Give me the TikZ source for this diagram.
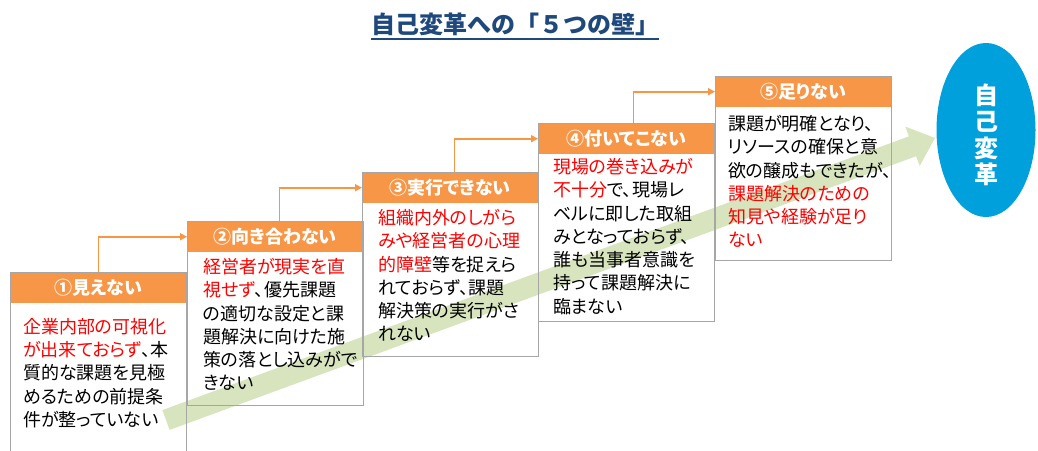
\documentclass[tikz,border=0pt]{standalone}
\usepackage{fontspec}
\setmainfont{Noto Sans CJK JP}[RawFeature=+palt]
\newfontfamily\jpfull{Noto Sans CJK JP}
\usetikzlibrary{arrows.meta,shapes.geometric,calc}
\definecolor{org}{HTML}{F79646}
\definecolor{boxgray}{HTML}{A6A6A6}
\definecolor{grn}{HTML}{D7E4BD}
\definecolor{eblue}{HTML}{00A0DC}
\definecolor{tblue}{HTML}{1F497D}
\definecolor{redtxt}{HTML}{FF0000}
\newcommand{\redt}[1]{\textcolor{redtxt}{#1}}
\begin{document}
\begin{tikzpicture}[x=1pt,y=-1pt,
  boxframe/.style={draw=boxgray, line width=1.2pt, minimum width=176pt, anchor=north west, inner sep=0pt},
  hdr/.style={fill=org, minimum width=176pt, minimum height=31pt, anchor=north west, inner sep=0pt,
              text=white, font=\fontsize{18}{21}\selectfont\bfseries},
  txt/.style={anchor=north west, align=left, inner sep=0pt, text=black,
              font=\fontsize{18}{23.3}\selectfont},
  conn/.style={draw=org, line width=1.6pt, -{Triangle[length=7pt,width=7pt]}}
]
\useasboundingbox (0,0) rectangle (1038,450);
\clip (0,0) rectangle (1038,450);

% title
\node[font=\fontsize{24}{28}\jpfull\bfseries, text=tblue, inner sep=0pt] (title) at (515,24) {自己変革への「５つの壁」};
\draw[tblue, line width=1.5pt] ([yshift=-3.5pt]title.south west) -- ([yshift=-3.5pt]title.south east);

% green arrow
\fill[grn] (162.4,410.1) -- (908.9,136.4) -- (905.3,126.6) -- (935,138) -- (919.7,166.0) -- (916.1,156.2) -- (169.6,429.9) -- cycle;

% headers
\node[hdr] (h1) at (10,272) {①見えない};
\node[hdr] (h2) at (187,221) {②向き合わない};
\node[hdr] (h3) at (362,172) {③実行できない};
\node[hdr] (h4) at (538,123) {④付いてこない};
\node[hdr] (h5) at (715,76) {⑤足りない};

% box frames
\node[boxframe, minimum height=195pt] (b1) at (10,272) {};
\node[boxframe, minimum height=184pt] (b2) at (187,221) {};
\node[boxframe, minimum height=184pt] (b3) at (362,172) {};
\node[boxframe, minimum height=198pt] (b4) at (538,123) {};
\node[boxframe, minimum height=184pt] (b5) at (715,76) {};

% connectors
\draw[conn] (b1.north) |- (h2.west);
\draw[conn] ([xshift=4pt]b2.north) |- (h3.west);
\draw[conn] ([xshift=4pt]b3.north) |- (h4.west);
\draw[conn] ([xshift=7pt]b4.north) |- (h5.west);

% texts
\node[txt] (t1) at (23,318) {\redt{企業内部の可視化}\\\redt{が出来ておらず}、本\\質的な課題を見極\\めるための前提条\\件が整っていない};
\node[txt] (t2) at (203,258) {\redt{経営者が現実を直}\\\redt{視せず}、優先課題\\の適切な設定と課\\題解決に向けた施\\策の落とし込みがで\\きない};
\node[txt] (t3) at (378,209) {\redt{組織内外のしがら}\\\redt{みや経営者の心理}\\\redt{的障壁}等を捉えら\\れておらず、課題\\解決策の実行がさ\\れない};
\node[txt] (t4) at (553,158) {\redt{現場の巻き込みが}\\\redt{不十分}で、現場レ\\ベルに即した取組\\みとなっておらず、\\誰も当事者意識を\\持って課題解決に\\臨まない};
\node[txt] (t5) at (728,115) {課題が明確となり、\\リソースの確保と意\\欲の醸成もできたが、\\\redt{課題解決のための}\\\redt{知見や経験が足り}\\\redt{ない}};

% goal ellipse
\node[ellipse, fill=eblue, minimum width=99pt, minimum height=174pt, inner sep=0pt] (e) at (986,130) {};
\node[align=center, text=white, inner sep=0pt, font=\fontsize{24}{26.5}\selectfont\bfseries] (etext) at (986,135) {自\\己\\変\\革};
\end{tikzpicture}
\end{document}
